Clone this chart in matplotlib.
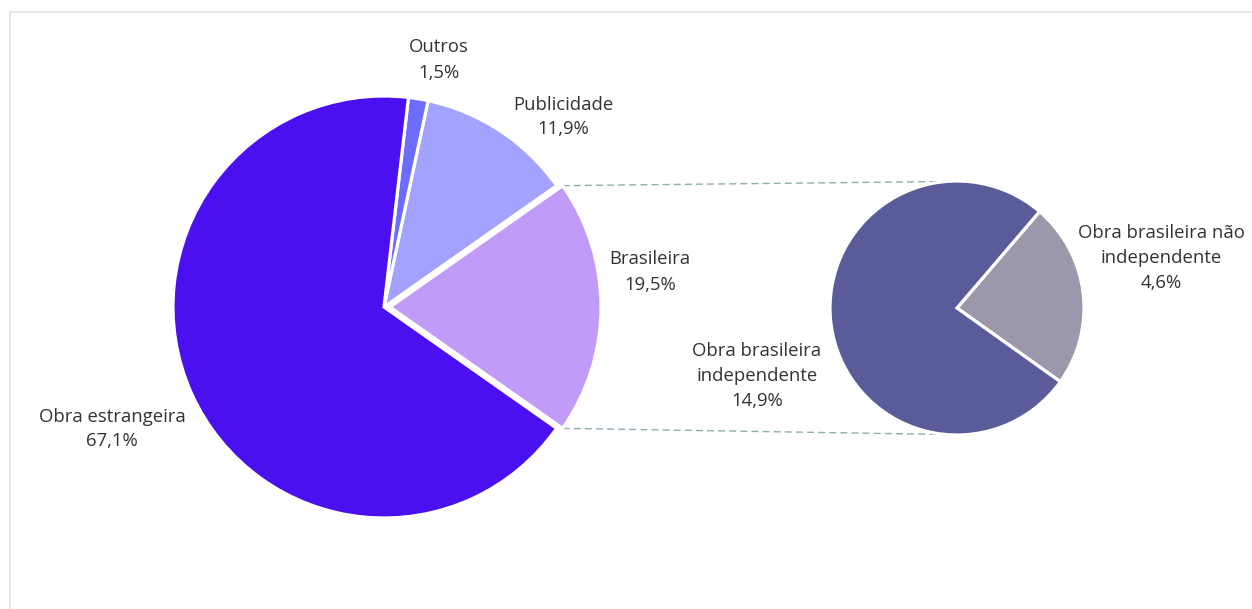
import matplotlib
matplotlib.use("Agg")
import matplotlib.pyplot as plt
import numpy as np
from matplotlib.patches import Rectangle

plt.rcParams['font.family'] = ['Open Sans', 'DejaVu Sans']

# Data
main_labels = ["Brasileira", "Publicidade", "Outros", "Obra estrangeira"]
main_values = [19.5, 11.9, 1.5, 67.1]
main_colors = ["#c09cf8", "#a3a3ff", "#6c6cff", "#4a10f0"]

sub_labels = ["Obra brasileira não\nindependente", "Obra brasileira\nindependente"]
sub_values = [4.6, 14.9]
sub_colors = ["#9d97ab", "#5a5c9a"]

W, H = 1252, 609
fig = plt.figure(figsize=(W / 100, H / 100), dpi=100)
ax = fig.add_axes([0, 0, 1, 1])

def fy(py):
    return H - py

# main pie
c1 = (384, fy(307))
r1 = 211
explode_px = 6
start1 = -main_values[0] / 100 * 360 / 2
ax.pie(main_values, colors=main_colors, startangle=start1,
       counterclock=True, center=c1, radius=r1,
       explode=[explode_px, 0, 0, 0],
       wedgeprops=dict(edgecolor="white", linewidth=2.3),
       frame=True)

# sub pie
c2 = (957, fy(308))
r2 = 127
sub_start = -35.5
ax.pie(sub_values, colors=sub_colors, startangle=sub_start,
       counterclock=True, center=c2, radius=r2,
       wedgeprops=dict(edgecolor="white", linewidth=2.3),
       frame=True)
ax.set_xlim(0, W)
ax.set_ylim(0, H)
ax.set_aspect('equal')
ax.axis('off')

# frame
ax.add_patch(Rectangle((10, -10), W + 20, H - 12 + 10, fill=False,
                       edgecolor="#e3e3e3", linewidth=1.2))

# connector lines
th = np.deg2rad(main_values[0] / 100 * 360 / 2)
ex = c1[0] + explode_px
for s in (1, -1):
    x0 = ex + r1 * np.cos(th)
    y0 = c1[1] + s * r1 * np.sin(th)
    x1 = c2[0] - 10
    y1 = c2[1] + s * (r2 - 0.5)
    ax.plot([x0, x1], [y0, y1], color="#8fb09c", lw=1.0, ls=(0, (5, 3)),
            zorder=0.5)

def fmt(v):
    return f"{v:.1f}".replace(".", ",") + "%"

txtc = "#333333"
fs = 13.3
ls = 1.5
label_pos = {
    "Brasileira": (650, 272),
    "Publicidade": (563, 117),
    "Outros": (439, 60),
    "Obra estrangeira": (112, 429),
}
for lab, v in zip(main_labels, main_values):
    x, y = label_pos[lab]
    ax.text(x, fy(y), f"{lab}\n{fmt(v)}", ha="center", va="center",
            fontsize=fs, color=txtc, linespacing=ls)

sub_pos = {
    sub_labels[0]: (1161, 258),
    sub_labels[1]: (757, 376),
}
for lab, v in zip(sub_labels, sub_values):
    x, y = sub_pos[lab]
    ax.text(x, fy(y), f"{lab}\n{fmt(v)}", ha="center", va="center",
            fontsize=fs, color=txtc, linespacing=ls)

fig.savefig("out.png", dpi=100, facecolor="white")
